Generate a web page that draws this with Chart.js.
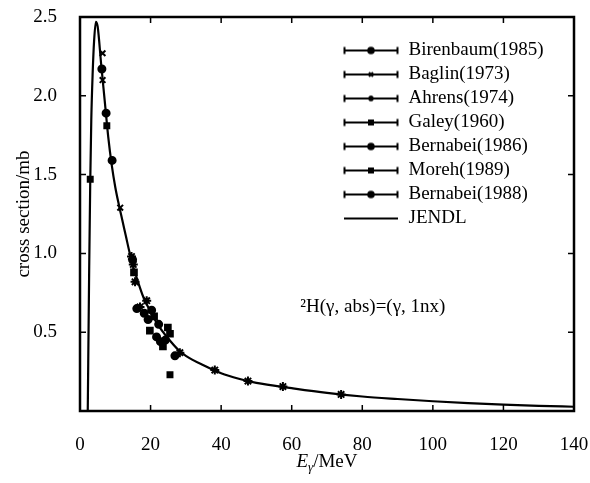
<!DOCTYPE html>
<html>
<head>
<meta charset="utf-8">
<script src="https://cdn.jsdelivr.net/npm/chart.js@4.4.1/dist/chart.umd.min.js"></script>
<style>
  html, body { margin: 0; padding: 0; background: #fff; }
  #wrap { width: 590px; height: 483px; }
</style>
</head>
<body>
<div id="wrap"><canvas id="chart" width="590" height="483"></canvas></div>
<script>
// JENDL evaluated curve (E in MeV, sigma in mb)
const jendlE = [2.2, 2.6, 2.9, 3.2, 3.6, 4.0, 4.5, 5.0, 6.0, 7.0, 8.0, 9.0, 10, 11, 12, 13, 14, 15, 16, 18, 20, 22, 25, 28, 30, 35, 40, 45, 50, 60, 70, 80, 90, 100, 110, 120, 130, 140];
const jendlSigma = [0, 0.9, 1.45, 1.85, 2.15, 2.35, 2.47, 2.44, 2.2, 1.97, 1.74, 1.56, 1.42, 1.31, 1.21, 1.11, 1.01, 0.92, 0.85, 0.72, 0.63, 0.55, 0.46, 0.385, 0.35, 0.29, 0.24, 0.205, 0.178, 0.145, 0.115, 0.092, 0.076, 0.062, 0.05, 0.041, 0.033, 0.027];

// measurements
const birenbaumE = [6.2, 7.4, 9.1];
const birenbaumS = [2.17, 1.89, 1.59];
const baglinE = [6.4, 6.4, 11.4];
const baglinS = [2.27, 2.10, 1.29];
const ahrensE = [14.6, 15.1, 15.6, 17.0, 18.9, 28.3, 38.2, 47.6, 57.5, 74];
const ahrensS = [0.98, 0.93, 0.82, 0.66, 0.70, 0.37, 0.26, 0.19, 0.155, 0.105];
const galeyE = [2.9, 7.6, 25.5];
const galeyS = [1.47, 1.81, 0.23];
const bernabei86E = [14.9, 16.1, 19.3, 20.3, 21.7, 22.3];
const bernabei86S = [0.96, 0.65, 0.58, 0.64, 0.47, 0.55];
const morehE = [15.3, 19.8, 21.0, 23.5, 24.9, 25.5];
const morehS = [0.88, 0.51, 0.60, 0.41, 0.53, 0.49];
const bernabei88E = [18.2, 22.8, 24.2, 26.9];
const bernabei88S = [0.62, 0.44, 0.45, 0.35];

const xTicks = [0, 20, 40, 60, 80, 100, 120, 140];
const yTicks = [0.5, 1.0, 1.5, 2.0, 2.5];

const serif = '"Liberation Serif", "DejaVu Serif", serif';

function pts(xs, ys) {
  return xs.map((x, i) => ({ x: x, y: ys[i] }));
}

function markerSet(label, xs, ys, style, r) {
  return {
    label: label,
    data: pts(xs, ys),
    pointStyle: style,
    pointRadius: r,
    pointBackgroundColor: '#000',
    pointBorderColor: '#000',
    pointBorderWidth: 2,
    showLine: false
  };
}

// legend icons: error-bar like line with end caps and a marker
function makeIcon(style, caps) {
  const c = document.createElement('canvas');
  c.width = 56; c.height = 14;
  const g = c.getContext('2d');
  g.strokeStyle = '#000';
  g.fillStyle = '#000';
  g.lineWidth = 2;
  g.beginPath();
  g.moveTo(1, 7); g.lineTo(55, 7);
  if (caps) {
    g.moveTo(1.5, 3.5); g.lineTo(1.5, 10.5);
    g.moveTo(54.5, 3.5); g.lineTo(54.5, 10.5);
  }
  g.stroke();
  if (style) {
    Chart.helpers.drawPoint(g, { pointStyle: style, radius: 2.8, rotation: 0, borderWidth: 1.5 }, 28, 7);
  }
  return c;
}

const datasets = [
  markerSet('Birenbaum(1985)', birenbaumE, birenbaumS, 'circle', 3.5),
  markerSet('Baglin(1973)', baglinE, baglinS, 'crossRot', 4),
  markerSet('Ahrens(1974)', ahrensE, ahrensS, 'star', 4.5),
  markerSet('Galey(1960)', galeyE, galeyS, 'rect', 3.5),
  markerSet('Bernabei(1986)', bernabei86E, bernabei86S, 'circle', 3.5),
  markerSet('Moreh(1989)', morehE, morehS, 'rect', 4),
  markerSet('Bernabei(1988)', bernabei88E, bernabei88S, 'circle', 3.5),
  {
    label: 'JENDL',
    data: pts(jendlE, jendlSigma),
    showLine: true,
    borderColor: '#000',
    borderWidth: 2.2,
    pointRadius: 0,
    cubicInterpolationMode: 'monotone'
  }
];

const icons = [
  makeIcon('circle', true), makeIcon('crossRot', true), makeIcon('star', true),
  makeIcon('rect', true), makeIcon('circle', true), makeIcon('rect', true),
  makeIcon('circle', true), makeIcon(null, false)
];

// frame and inward ticks on all four sides
const framePlugin = {
  id: 'frame',
  afterDraw(chart) {
    const { ctx, chartArea: a, scales } = chart;
    ctx.save();
    ctx.strokeStyle = '#000';
    ctx.lineWidth = 1.5;
    ctx.beginPath();
    xTicks.forEach(v => {
      const px = scales.x.getPixelForValue(v);
      ctx.moveTo(px, a.bottom); ctx.lineTo(px, a.bottom - 6);
      ctx.moveTo(px, a.top); ctx.lineTo(px, a.top + 6);
    });
    yTicks.forEach(v => {
      const py = scales.y.getPixelForValue(v);
      ctx.moveTo(a.left, py); ctx.lineTo(a.left + 6, py);
      ctx.moveTo(a.right, py); ctx.lineTo(a.right - 6, py);
    });
    ctx.stroke();
    ctx.lineWidth = 2.5;
    ctx.strokeRect(a.left, a.top, a.right - a.left, a.bottom - a.top);

    // x axis title E_gamma/MeV
    const cx = (a.left + a.right) / 2;
    const by = 467;
    ctx.fillStyle = '#000';
    ctx.textBaseline = 'alphabetic';
    const fE = 'italic 19px ' + serif, fG = 'italic 13px ' + serif, fM = '19px ' + serif;
    ctx.font = fE; const wE = ctx.measureText('E').width;
    ctx.font = fG; const wG = ctx.measureText('\u03b3').width;
    ctx.font = fM; const wM = ctx.measureText('/MeV').width;
    let x0 = cx - (wE + wG + wM) / 2;
    ctx.font = fE; ctx.fillText('E', x0, by);
    ctx.font = fG; ctx.fillText('\u03b3', x0 + wE, by + 4);
    ctx.font = fM; ctx.fillText('/MeV', x0 + wE + wG, by);

    // reaction label
    ctx.font = '19px ' + serif;
    ctx.textAlign = 'center';
    ctx.textBaseline = 'middle';
    ctx.fillText('\u00b2H(\u03b3, abs)=(\u03b3, 1nx)', scales.x.getPixelForValue(83), scales.y.getPixelForValue(0.66));
    ctx.restore();
  }
};

// move the in-area legend to the upper right
const legendPlace = {
  id: 'legendPlace',
  afterLayout(chart) {
    const lg = chart.legend;
    if (!lg) return;
    lg.left = chart.chartArea.left + 258;
    lg.top = chart.chartArea.top + 19;
  }
};

new Chart(document.getElementById('chart'), {
  type: 'scatter',
  data: { datasets: datasets },
  plugins: [framePlugin, legendPlace],
  options: {
    responsive: false,
    animation: false,
    layout: { padding: { top: 17, right: 16, left: 0, bottom: 0 } },
    scales: {
      x: {
        type: 'linear',
        min: 0, max: 140,
        afterFit(s) { s.height = 72; s.paddingLeft = 0; s.paddingRight = 0; },
        afterBuildTicks(s) { s.ticks = xTicks.map(v => ({ value: v })); },
        grid: { display: false },
        border: { display: false },
        ticks: { color: '#000', padding: 15, font: { family: serif, size: 19 } }
      },
      y: {
        type: 'linear',
        min: 0, max: 2.5,
        afterFit(s) { s.width = 80; s.paddingTop = 0; s.paddingBottom = 0; },
        afterBuildTicks(s) { s.ticks = yTicks.map(v => ({ value: v })); },
        grid: { display: false },
        border: { display: false },
        ticks: {
          color: '#000', padding: 15, font: { family: serif, size: 19 },
          callback: v => v.toFixed(1)
        },
        title: {
          display: true,
          text: 'cross section/mb',
          color: '#000',
          font: { family: serif, size: 19 },
          padding: { top: 13, bottom: 0 }
        }
      }
    },
    plugins: {
      tooltip: { enabled: false },
      legend: {
        position: 'chartArea',
        align: 'start',
        labels: {
          usePointStyle: true,
          pointStyleWidth: 56,
          padding: 5,
          color: '#000',
          font: { family: serif, size: 19 },
          generateLabels(chart) {
            const items = Chart.defaults.plugins.legend.labels.generateLabels(chart);
            return items.map((it, i) => Object.assign(it, { pointStyle: icons[i], fontColor: '#000' }));
          }
        }
      }
    }
  }
});
</script>
</body>
</html>
